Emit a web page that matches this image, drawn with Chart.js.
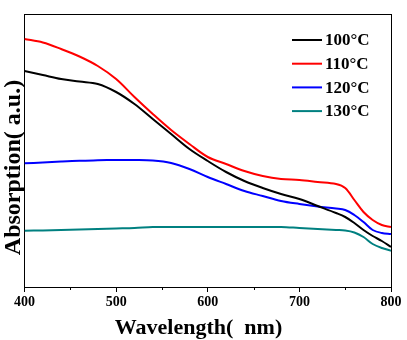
<!DOCTYPE html>
<html>
<head>
<meta charset="utf-8">
<script src="https://cdn.jsdelivr.net/npm/chart.js@4/dist/chart.umd.min.js"></script>
<style>
  body { margin: 0; background: #fff; }
  #wrap { width: 407px; height: 340px; }
</style>
</head>
<body>
<div id="wrap"><canvas id="grafico"></canvas></div>
<script>
// dados (absorção em unidades arbitrárias)
const wavelengths = [400, 420, 440, 460, 480, 500, 520, 540, 560, 580, 600, 620, 640, 660, 680, 700, 720, 740, 750, 760, 770, 780, 790, 800];
const abs100 = [216, 212, 208, 205.5, 203, 195, 183, 168, 153, 138, 126, 115, 106, 99, 93, 88, 81, 74, 70, 64, 57, 51, 46, 40];
const abs110 = [248, 244.5, 238, 230.5, 221, 208, 190, 173, 157, 143, 130, 123, 116, 111, 108, 107, 105, 103, 99, 87, 75, 67, 62, 60];
const abs120 = [123.7, 124.5, 125.5, 126.3, 126.7, 127, 127, 126.5, 124, 118, 110, 103, 96, 91, 86, 83, 80.5, 78.5, 77, 72, 65, 57, 54, 53];
const abs130 = [56.3, 56.5, 57, 57.5, 58, 58.5, 59, 60, 60, 60, 60, 60, 60, 60, 60, 59, 58, 57, 56.5, 54.5, 50, 43, 39, 36.3];
const seriesLabels = ['100°C', '110°C', '120°C', '130°C'];
const seriesColors = ['#000000', '#ff0000', '#0000ff', '#008080'];
const xTicks = [400, 500, 600, 700, 800];
const xMinorTicks = [450, 550, 650, 750];
const xTitulo = 'Wavelength(  nm)';
const yTitulo = 'Absorption( a.u.)';

const fonte = "'Liberation Serif', 'Times New Roman', serif";

function pontos(valores) {
    return wavelengths.map((w, i) => ({ x: w, y: valores[i] }));
}

const datasets = [abs100, abs110, abs120, abs130].map((v, i) => ({
    label: seriesLabels[i],
    data: pontos(v),
    borderColor: seriesColors[i],
    borderWidth: 2,
    pointRadius: 0,
    tension: 0.35,
    fill: false
}));

// moldura, ticks menores, títulos dos eixos e legenda
const extras = {
    id: 'extras',
    afterDraw(chart) {
        const ctx = chart.ctx;
        const area = chart.chartArea;
        const xs = chart.scales.x;
        ctx.save();
        ctx.strokeStyle = '#000';
        ctx.lineWidth = 1;
        ctx.beginPath();
        ctx.moveTo(area.left, area.top + 0.5);
        ctx.lineTo(area.right, area.top + 0.5);
        ctx.moveTo(area.right + 0.5, area.top);
        ctx.lineTo(area.right + 0.5, area.bottom);
        xMinorTicks.forEach(t => {
            const px = Math.round(xs.getPixelForValue(t)) + 0.5;
            ctx.moveTo(px, area.bottom);
            ctx.lineTo(px, area.bottom + 3);
        });
        ctx.stroke();

        // títulos dos eixos
        ctx.fillStyle = '#000';
        ctx.textAlign = 'center';
        ctx.textBaseline = 'alphabetic';
        ctx.font = 'bold 22px ' + fonte;
        ctx.fillText(xTitulo, 198.5, 334);
        ctx.save();
        ctx.translate(20, 167.5);
        ctx.rotate(-Math.PI / 2);
        ctx.font = 'bold 24px ' + fonte;
        ctx.fillText(yTitulo, 0, 0);
        ctx.restore();

        // legenda
        ctx.textAlign = 'left';
        ctx.font = 'bold 17px ' + fonte;
        ctx.textBaseline = 'middle';
        chart.data.datasets.forEach((ds, i) => {
            const y = 40 + i * 23.7;
            ctx.strokeStyle = ds.borderColor;
            ctx.lineWidth = 2;
            ctx.beginPath();
            ctx.moveTo(292, y);
            ctx.lineTo(322, y);
            ctx.stroke();
            ctx.fillText(ds.label, 325, y + 1);
        });
        ctx.restore();
    }
};

new Chart(document.getElementById('grafico'), {
    type: 'line',
    data: { datasets: datasets },
    options: {
        responsive: true,
        maintainAspectRatio: false,
        animation: false,
        layout: { padding: { top: 14, right: 16, left: 0, bottom: 0 } },
        plugins: {
            legend: { display: false },
            tooltip: { enabled: false }
        },
        scales: {
            x: {
                type: 'linear',
                min: 400,
                max: 800,
                afterBuildTicks: s => { s.ticks = xTicks.map(v => ({ value: v })); },
                afterFit: s => { s.height = 53; },
                ticks: {
                    color: '#000',
                    padding: 2,
                    maxRotation: 0,
                    font: { family: fonte, size: 14, weight: 'bold' }
                },
                grid: { display: true, drawOnChartArea: false, tickLength: 5, color: '#000', tickWidth: 1 },
                border: { display: true, color: '#000', width: 1 },
                title: { display: false }
            },
            y: {
                min: 0,
                max: 273,
                afterFit: s => { s.width = 24.5; },
                ticks: { display: false },
                grid: { display: false },
                border: { display: true, color: '#000', width: 1 },
                title: { display: false }
            }
        }
    },
    plugins: [extras]
});
</script>
</body>
</html>
